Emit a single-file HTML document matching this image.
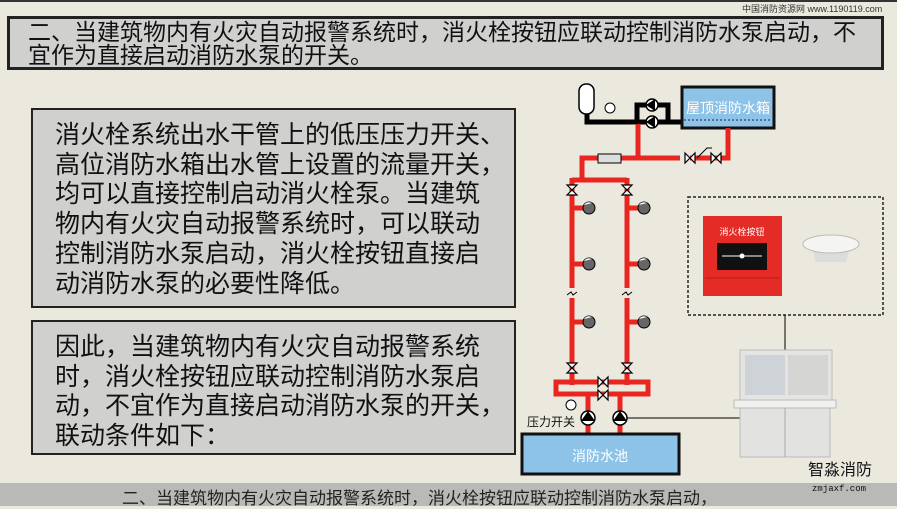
<!DOCTYPE html>
<html><head><meta charset="utf-8"><style>
body{margin:0;width:897px;height:506px;overflow:hidden;background:#ebe8de;font-family:"Liberation Sans","Noto Sans CJK SC",sans-serif;position:relative}
.box{position:absolute;background:#d0d0cf;border:2px solid #222;box-sizing:border-box}
.t{position:absolute;color:#111;white-space:nowrap}
</style></head><body>
<div style="position:absolute;left:0;top:0;width:897px;height:2px;background:#333"></div>
<div class="t" style="left:742px;top:2px;font-size:9px;color:#333">中国消防资源网 www.1190119.com</div>
<div class="box" style="left:7px;top:16px;width:877px;height:54px;border-width:3px"></div>
<div class="t" style="left:28px;top:21px;font-size:23px;line-height:23px">二、当建筑物内有火灾自动报警系统时，消火栓按钮应联动控制消防水泵启动，不<br>宜作为直接启动消防水泵的开关。</div>
<div class="box" style="left:31px;top:108px;width:485px;height:200px"></div>
<div class="t" style="left:55px;top:121px;font-size:25px;line-height:29.7px">消火栓系统出水干管上的低压压力开关、<br>高位消防水箱出水管上设置的流量开关，<br>均可以直接控制启动消火栓泵。当建筑<br>物内有火灾自动报警系统时，可以联动<br>控制消防水泵启动，消火栓按钮直接启<br>动消防水泵的必要性降低。</div>
<div class="box" style="left:31px;top:320px;width:485px;height:135px"></div>
<div class="t" style="left:55px;top:333px;font-size:25px;line-height:29.7px">因此，当建筑物内有火灾自动报警系统<br>时，消火栓按钮应联动控制消防水泵启<br>动，不宜作为直接启动消防水泵的开关，<br>联动条件如下：</div>
<div style="position:absolute;left:0;top:483px;width:897px;height:23px;background:#b9b9b7"></div>
<div class="t" style="left:122px;top:484px;font-size:17px;color:#222">二、当建筑物内有火灾自动报警系统时，消火栓按钮应联动控制消防水泵启动，</div>
<svg width="897" height="506" style="position:absolute;left:0;top:0">
<defs><g id="v"><path d="M-5,-5 L5,5 L5,-5 L-5,5 Z" fill="#fff" stroke="#000" stroke-width="1.2"/></g>
<g id="vv"><path d="M-5,-5 L5,5 L-5,5 L5,-5 Z" fill="#fff" stroke="#000" stroke-width="1.2"/></g>
<g id="h"><circle r="6" fill="#666" stroke="#000"/><path d="M-5,-3 A6,6 0 0 1 3,-5 Z" fill="#fff"/></g></defs>
<rect x="579" y="84" width="15" height="30" rx="7" fill="#fff" stroke="#000" stroke-width="1.5"/>
<path d="M587,114 V122 H682 M637,122 V105 H668 V122" stroke="#000" stroke-width="5" fill="none"/>
<circle cx="610" cy="108" r="5" fill="#fff" stroke="#000"/>
<circle cx="652" cy="105" r="6" fill="#fff" stroke="#000" stroke-width="1.5"/><path d="M646,105 L655,99 L655,111Z" fill="#000"/>
<circle cx="652" cy="122" r="6" fill="#fff" stroke="#000" stroke-width="1.5"/><path d="M646,122 L655,116 L655,128Z" fill="#000"/>
<rect x="682" y="87" width="92" height="41" fill="#8ec3e8" stroke="#111" stroke-width="3"/>
<line x1="684" y1="120" x2="772" y2="120" stroke="#225" stroke-dasharray="2,2"/>
<text x="728" y="113" font-size="14" fill="#fff" text-anchor="middle" font-family="Liberation Sans,Noto Sans CJK SC,sans-serif">屋顶消防水箱</text>
<g stroke="#e8261f" stroke-width="5" fill="none">
<path d="M638,124 V158 M728,128 V158 H690 M680,158 H582 V180 M572,180 H627 M572,178 V385 M627,178 V385"/>
<rect x="556" y="382" width="92" height="12"/>
<path d="M588,395 V436 M620,395 V436"/>
<path d="M572,208 H585 M572,264 H585 M572,322 H585 M627,208 H640 M627,264 H640 M627,322 H640"/>
</g>
<rect x="598" y="154" width="23" height="9" fill="#ddd" stroke="#000"/>
<use href="#v" x="690" y="158"/><use href="#v" x="716" y="158"/>
<path d="M697,158 L707,148 L712,148" stroke="#000" fill="none"/>
<use href="#vv" x="572" y="190"/><use href="#vv" x="627" y="190"/>
<use href="#vv" x="572" y="368"/><use href="#vv" x="627" y="368"/>
<use href="#v" x="603" y="382"/><use href="#v" x="603" y="395"/>
<g><use href="#h" x="589" y="208"/><use href="#h" x="589" y="264"/><use href="#h" x="589" y="322"/><use href="#h" x="644" y="208"/><use href="#h" x="644" y="264"/><use href="#h" x="644" y="322"/></g>
<rect x="567" y="288" width="10" height="10" fill="#ebe8de"/><rect x="622" y="288" width="10" height="10" fill="#ebe8de"/>
<path d="M567,295 l4,-3 l2,3 l4,-3 M622,295 l4,-3 l2,3 l4,-3" stroke="#000" fill="none"/>
<circle cx="571" cy="405" r="5" fill="#fff" stroke="#000"/>
<circle cx="588" cy="418" r="7" fill="#fff" stroke="#000" stroke-width="1.5"/><path d="M581,421 L588,411 L595,421Z" fill="#000"/>
<circle cx="620" cy="418" r="7" fill="#fff" stroke="#000" stroke-width="1.5"/><path d="M613,421 L620,411 L627,421Z" fill="#000"/>
<line x1="627" y1="418" x2="740" y2="418" stroke="#000"/>
<text x="527" y="426" font-size="12" fill="#111" font-family="Liberation Sans,Noto Sans CJK SC,sans-serif">压力开关</text>
<rect x="522" y="434" width="157" height="40" fill="#8ec3e8" stroke="#111" stroke-width="3"/>
<text x="600" y="461" font-size="14" fill="#fff" text-anchor="middle" font-family="Liberation Sans,Noto Sans CJK SC,sans-serif">消防水池</text>
<rect x="688" y="197" width="195" height="118" fill="none" stroke="#222" stroke-width="1.5" stroke-dasharray="3,2"/>
<rect x="703" y="216" width="79" height="80" fill="#e42b25"/>
<rect x="717" y="243" width="50" height="27" fill="#111"/>
<line x1="722" y1="256" x2="762" y2="256" stroke="#fff"/><circle cx="742" cy="256" r="2.5" fill="#fff"/>
<line x1="705" y1="278" x2="780" y2="278" stroke="#b51d18"/>
<text x="742" y="235" font-size="9" fill="#fff" text-anchor="middle" font-family="Liberation Sans,Noto Sans CJK SC,sans-serif">消火栓按钮</text>
<path d="M812,248 L850,248 L846,262 L816,262Z" fill="#dcdcda"/>
<ellipse cx="831" cy="244" rx="28" ry="9" fill="#f4f4f2" stroke="#bbb"/>
<line x1="785" y1="315" x2="785" y2="350" stroke="#000"/>
<rect x="740" y="350" width="92" height="50" fill="#e4e4e2" stroke="#bbb"/>
<rect x="745" y="355" width="40" height="40" fill="#cdd3d6"/><rect x="788" y="355" width="40" height="40" fill="#d5d5d3"/>
<rect x="734" y="400" width="102" height="8" fill="#f0f0ee" stroke="#bbb"/>
<rect x="740" y="408" width="90" height="49" fill="#e2e2e0" stroke="#bbb"/>
<line x1="785" y1="408" x2="785" y2="457" stroke="#aaa"/>
<text x="808" y="475" font-size="16" fill="#111" font-family="Liberation Sans,Noto Sans CJK SC,sans-serif">智淼消防</text>
<text x="812" y="491" font-size="9" fill="#111" font-family="Liberation Mono,monospace">zmjaxf.com</text>
</svg>
</body></html>
